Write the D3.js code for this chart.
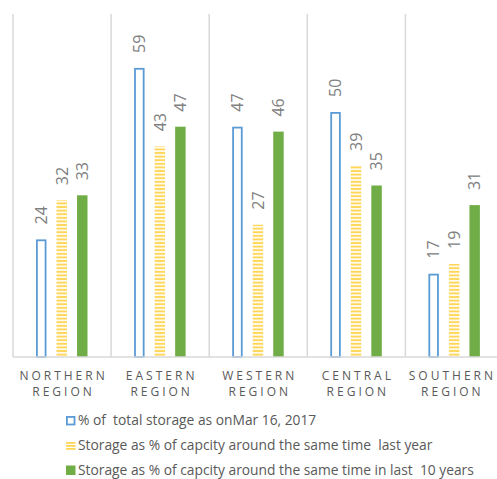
<!DOCTYPE html>
<html>
<head>
<meta charset="utf-8">
<script src="https://cdn.jsdelivr.net/npm/d3@7/dist/d3.min.js"></script>
<style>
  html, body { margin: 0; padding: 0; background: #fff; }
  svg { display: block; font-family: "Open Sans", "Liberation Sans", sans-serif; }
</style>
</head>
<body>
<svg id="chart" width="497" height="479"></svg>
<script>
// Reservoir storage by region (percent of capacity)
const regions = ["NORTHERN|REGION", "EASTERN|REGION", "WESTERN|REGION", "CENTRAL|REGION", "SOUTHERN|REGION"];
const seriesNames = [
  "% of  total storage as onMar 16, 2017",
  "Storage as % of capcity around the same time  last year",
  "Storage as % of capcity around the same time in last  10 years"
];
const currentStorage = [24, 59, 47, 50, 17];
const lastYear = [32, 43, 27, 39, 19];
const tenYearAvg = [33, 47, 46, 35, 31];
const yMax = 70;

const seriesValues = [currentStorage, lastYear, tenYearAvg];
const keys = ["cur", "last", "avg"];

const svg = d3.select("#chart");
const W = 497, H = 479;
const plot = { left: 13, right: 503.5, top: 14, bottom: 357 };

// pattern for the striped series
const defs = svg.append("defs");
const pat = defs.append("pattern")
  .attr("id", "stripes")
  .attr("patternUnits", "userSpaceOnUse")
  .attr("width", 12).attr("height", 3.6);
pat.append("rect").attr("width", 12).attr("height", 3.6).attr("fill", "#fff");
pat.append("rect").attr("y", 0.8).attr("width", 12).attr("height", 2).attr("fill", "#FFD658");

const x0 = d3.scaleBand().domain(regions).range([plot.left, plot.right]).paddingInner(0).paddingOuter(0);
const x1 = d3.scaleBand().domain(keys).range([23, 74.5]).paddingInner(0.49).paddingOuter(0);
const y = d3.scaleLinear().domain([0, yMax]).range([plot.bottom, plot.top]);

// category separators
const seps = regions.map(r => x0(r)).concat([x0(regions[regions.length - 1]) + x0.bandwidth()]);
svg.append("g").selectAll("line").data(seps).join("line")
  .attr("x1", d => d).attr("x2", d => d)
  .attr("y1", plot.top).attr("y2", plot.bottom)
  .attr("stroke", "#d9d9d9").attr("stroke-width", 1.5);

const rows = regions.map((r, i) => ({ region: r, vals: keys.map((k, j) => ({ key: k, v: seriesValues[j][i] })) }));

const groups = svg.append("g").selectAll("g").data(rows).join("g")
  .attr("transform", d => `translate(${x0(d.region)},0)`);

groups.each(function(d) {
  const g = d3.select(this);
  d.vals.forEach(b => {
    const bx = x1(b.key), bw = x1.bandwidth();
    const top = y(b.v);
    if (b.key === "cur") {
      g.append("rect")
        .attr("x", bx + 0.9).attr("y", top + 0.9)
        .attr("width", bw - 1.8).attr("height", plot.bottom - top - 0.9)
        .attr("fill", "#fff").attr("stroke", "#5B9BD5").attr("stroke-width", 1.8);
    } else if (b.key === "last") {
      g.append("rect")
        .attr("x", bx).attr("y", top)
        .attr("width", bw).attr("height", plot.bottom - top)
        .attr("fill", "url(#stripes)");
    } else {
      g.append("rect")
        .attr("x", bx).attr("y", top)
        .attr("width", bw).attr("height", plot.bottom - top)
        .attr("fill", "#70AD47");
    }
    g.append("text")
      .attr("transform", `translate(${bx + bw / 2},${top - 15}) rotate(-90)`)
      .attr("dy", "0.36em")
      .attr("text-anchor", "start")
      .attr("fill", "#808080")
      .attr("font-size", 16)
      .text(b.v);
  });
});

// baseline
svg.append("line")
  .attr("x1", plot.left).attr("x2", plot.right)
  .attr("y1", plot.bottom).attr("y2", plot.bottom)
  .attr("stroke", "#d9d9d9").attr("stroke-width", 1.5);

// category labels (letter-spaced, kept inside the drawing width)
const ls = 3;
const catG = svg.append("g").selectAll("text").data(regions).join("text")
  .attr("text-anchor", "middle")
  .attr("fill", "#595959")
  .attr("font-size", 12)
  .attr("letter-spacing", ls);
catG.each(function(r) {
  const t = d3.select(this);
  const cx = x0(r) + x0.bandwidth() / 2 + ls / 2;
  r.split("|").forEach((line, i) => {
    t.append("tspan").attr("x", cx).attr("y", 379.5 + i * 16).text(line);
  });
  const bb = this.getBBox();
  const overflow = (bb.x + bb.width) - (W - 1);
  if (overflow > 0) t.selectAll("tspan").attr("x", cx - overflow);
});

// legend
const legend = svg.append("g").attr("transform", "translate(66,0)");
const legY = [420.5, 445.5, 470];
seriesNames.forEach((name, i) => {
  const g = legend.append("g").attr("transform", `translate(0,${legY[i]})`);
  if (i === 0) {
    g.append("rect").attr("x", 0.9).attr("y", -3.6).attr("width", 7.6).attr("height", 7.6)
      .attr("fill", "#fff").attr("stroke", "#5B9BD5").attr("stroke-width", 1.8);
  } else if (i === 1) {
    [-3.5, -0.5, 2.5].forEach(yy => g.append("rect").attr("x", 0).attr("y", yy).attr("width", 9.5).attr("height", 1.8).attr("fill", "#FFD658"));
  } else {
    g.append("rect").attr("x", 0).attr("y", -4.5).attr("width", 9.5).attr("height", 9.5).attr("fill", "#70AD47");
  }
  g.append("text").attr("x", 12).attr("dy", "0.35em")
    .attr("fill", "#595959").attr("font-size", 13.8)
    .style("white-space", "pre")
    .text(name);
});
</script>
</body>
</html>
